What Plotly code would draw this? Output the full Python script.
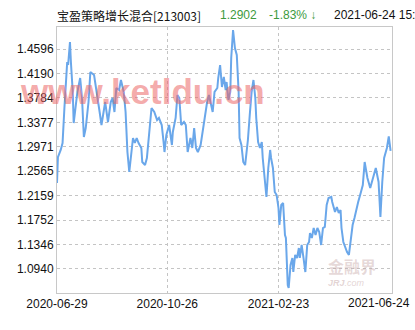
import plotly.graph_objects as go

fund_name = "宝盈策略增长混合[213003]"
latest_nav = "1.2902"
latest_change = "-1.83% ↓"
latest_time = "2021-06-24 15:"

dates = [
"2020-06-29","2020-06-30","2020-07-03","2020-07-05","2020-07-07","2020-07-09","2020-07-10","2020-07-11","2020-07-13","2020-07-14",
"2020-07-16","2020-07-17","2020-07-19","2020-07-21","2020-07-24","2020-07-26","2020-07-28","2020-07-30","2020-08-02","2020-08-04",
"2020-08-08","2020-08-11","2020-08-14","2020-08-16","2020-08-20","2020-08-23","2020-08-26","2020-08-28","2020-08-30","2020-09-01",
"2020-09-04","2020-09-06","2020-09-09","2020-09-11","2020-09-13","2020-09-15","2020-09-17","2020-09-19","2020-09-21","2020-09-23",
"2020-09-25","2020-09-28","2020-09-29","2020-10-02","2020-10-04","2020-10-07","2020-10-09","2020-10-12","2020-10-15","2020-10-17",
"2020-10-20","2020-10-22","2020-10-23","2020-10-25","2020-10-28","2020-10-31","2020-11-01","2020-11-04","2020-11-06","2020-11-08",
"2020-11-10","2020-11-13","2020-11-15","2020-11-17","2020-11-20","2020-11-22","2020-11-24","2020-11-26","2020-11-28","2020-12-01",
"2020-12-03","2020-12-05","2020-12-08","2020-12-10","2020-12-12","2020-12-14","2020-12-16","2020-12-19","2020-12-20","2020-12-22",
"2020-12-24","2020-12-26","2020-12-28","2020-12-29","2020-12-31","2021-01-02","2021-01-03","2021-01-05","2021-01-07","2021-01-09",
"2021-01-11","2021-01-12","2021-01-14","2021-01-16","2021-01-18","2021-01-20","2021-01-21","2021-01-23","2021-01-25","2021-01-27",
"2021-01-29","2021-01-30","2021-02-01","2021-02-03","2021-02-05","2021-02-06","2021-02-08","2021-02-10","2021-02-12","2021-02-14",
"2021-02-15","2021-02-17","2021-02-19","2021-02-21","2021-02-23","2021-02-24","2021-02-26","2021-02-28","2021-03-02","2021-03-03",
"2021-03-05","2021-03-06","2021-03-08","2021-03-10","2021-03-11","2021-03-13","2021-03-15","2021-03-17","2021-03-18","2021-03-20",
"2021-03-22","2021-03-24","2021-03-26","2021-03-28","2021-03-29","2021-03-31","2021-04-02","2021-04-04","2021-04-06","2021-04-08",
"2021-04-10","2021-04-12","2021-04-14","2021-04-16","2021-04-18","2021-04-21","2021-04-22","2021-04-25","2021-04-27","2021-04-29",
"2021-05-01","2021-05-02","2021-05-04","2021-05-06","2021-05-08","2021-05-10","2021-05-12","2021-05-14","2021-05-16","2021-05-18",
"2021-05-20","2021-05-23","2021-05-25","2021-05-27","2021-05-30","2021-06-02","2021-06-05","2021-06-08","2021-06-11","2021-06-13",
"2021-06-15","2021-06-17","2021-06-20","2021-06-22","2021-06-24",
]

nav = [
1.2369,1.2801,1.2918,1.3034,1.3616,1.4164,1.4380,1.4330,1.4713,1.4380,
1.3882,1.3366,1.3616,1.3882,1.4114,1.3782,1.3134,1.3283,1.3715,1.4214,
1.4164,1.3882,1.3549,1.3333,1.3715,1.3383,1.3715,1.3782,1.3549,1.3948,
1.3915,1.4081,1.3882,1.3549,1.2884,1.2552,1.2884,1.3117,1.3034,1.3117,
1.3034,1.2951,1.2718,1.2668,1.2785,1.3217,1.3616,1.3549,1.3416,1.3450,
1.3333,1.3051,1.2884,1.3167,1.3333,1.3001,1.3217,1.3450,1.3832,1.3782,
1.3333,1.3383,1.3333,1.2884,1.3117,1.2951,1.3283,1.2951,1.2884,1.3001,
1.3217,1.3383,1.3715,1.3832,1.3715,1.3549,1.3882,1.3948,1.4114,1.4330,
1.3965,1.4131,1.3915,1.4048,1.3749,1.3882,1.4447,1.4912,1.4613,1.4497,
1.3882,1.3117,1.3001,1.2718,1.2668,1.2951,1.3084,1.3499,1.3882,1.4081,
1.3782,1.3450,1.3051,1.2951,1.3051,1.2785,1.2502,1.2137,1.2619,1.2918,
1.2785,1.2619,1.2220,1.2170,1.1954,1.1671,1.2004,1.2037,1.1505,1.1455,
1.0674,1.0624,1.1006,1.1123,1.0890,1.1173,1.1123,1.1289,1.1123,1.1339,
1.1123,1.0890,1.1339,1.1389,1.1538,1.1455,1.1621,1.1505,1.1621,1.1555,
1.1339,1.1621,1.1638,1.2004,1.2120,1.2137,1.2053,1.1887,1.1970,1.1871,
1.1921,1.1621,1.1389,1.1289,1.1222,1.1173,1.1422,1.1671,1.1788,1.1954,
1.2053,1.2220,1.2336,1.2718,1.2452,1.2286,1.2452,1.2619,1.2386,1.1804,
1.2386,1.2785,1.2951,1.3142,1.2902,
]

y_ticks = [1.0940, 1.1346, 1.1752, 1.2159, 1.2565, 1.2971, 1.3377, 1.3784, 1.4190, 1.4596]
x_tick_dates = ["2020-06-29", "2020-10-26", "2021-02-23"]
x_last_label = "2021-06-24"

fig = go.Figure()
fig.add_trace(go.Scatter(
    x=dates, y=nav, mode="lines",
    line=dict(color="#6aa7ea", width=2),
    hoverinfo="skip", showlegend=False,
))

grid = "#c4c4c4"
fig.update_layout(
    width=415, height=330,
    margin=dict(l=57, r=23, t=27, b=37),
    paper_bgcolor="white", plot_bgcolor="white",
    font=dict(family="Liberation Sans, Arial, sans-serif", size=12, color="#111"),
    xaxis=dict(
        type="date",
        range=["2020-06-29", "2021-06-25 12:00"],
        tickvals=x_tick_dates, ticktext=x_tick_dates,
        showgrid=True, gridcolor=grid, griddash="dot", gridwidth=1,
        showline=True, linecolor="#c8c8c8", linewidth=1, mirror=True,
        ticks="", zeroline=False,
        tickfont=dict(size=12, color="#111"),
    ),
    yaxis=dict(
        range=[1.0541, 1.4962],
        tickvals=y_ticks, ticktext=[f"{v:.4f}" for v in y_ticks],
        showgrid=True, gridcolor=grid, griddash="dot", gridwidth=1,
        showline=True, linecolor="#c8c8c8", linewidth=1, mirror=True,
        ticks="", zeroline=False,
        tickfont=dict(size=12, color="#111"),
    ),
)

cjk = "Noto Sans CJK SC, sans-serif"
latin = "Liberation Sans, Arial, sans-serif"
hdr = [
    (fund_name, -2 / 335, "#111", cjk),
    (latest_nav, 161 / 335, "#3d9a3d", latin),
    (latest_change, 210 / 335, "#3d9a3d", latin),
    (latest_time, 275 / 335, "#111", latin),
]
for txt, xp, col, fam in hdr:
    fig.add_annotation(
        text=txt, xref="paper", yref="paper", x=xp, y=1, yshift=12,
        xanchor="left", yanchor="middle", showarrow=False,
        font=dict(family=fam, size=12, color=col),
    )

# last x label placed inside the image like the reference
fig.add_annotation(
    text=x_last_label, xref="paper", yref="paper", x=1, y=0, yshift=-10,
    xshift=20, xanchor="right", yanchor="middle", showarrow=False,
    font=dict(size=12, color="#111"),
)

# watermarks
fig.add_annotation(
    text="<b>www.ketldu.cn</b>", xref="paper", yref="paper",
    x=85 / 335, y=(293 - 91) / 266, xanchor="center", yanchor="middle",
    showarrow=False,
    font=dict(family=latin, size=35, color="rgba(236,100,100,0.55)"),
)
fig.add_annotation(
    text="<b>金融界</b>", xref="paper", yref="paper",
    x=(352 - 57) / 335, y=(293 - 266) / 266, xanchor="center", yanchor="middle",
    showarrow=False,
    font=dict(family=cjk, size=16, color="rgba(200,170,170,0.45)"),
)
fig.add_annotation(
    text="<i><b>JRJ</b>.com</i>", xref="paper", yref="paper",
    x=(346 - 57) / 335, y=(293 - 283) / 266, xanchor="center", yanchor="middle",
    showarrow=False,
    font=dict(family=latin, size=9, color="rgba(200,170,170,0.5)"),
)

fig.write_html("out.html")
